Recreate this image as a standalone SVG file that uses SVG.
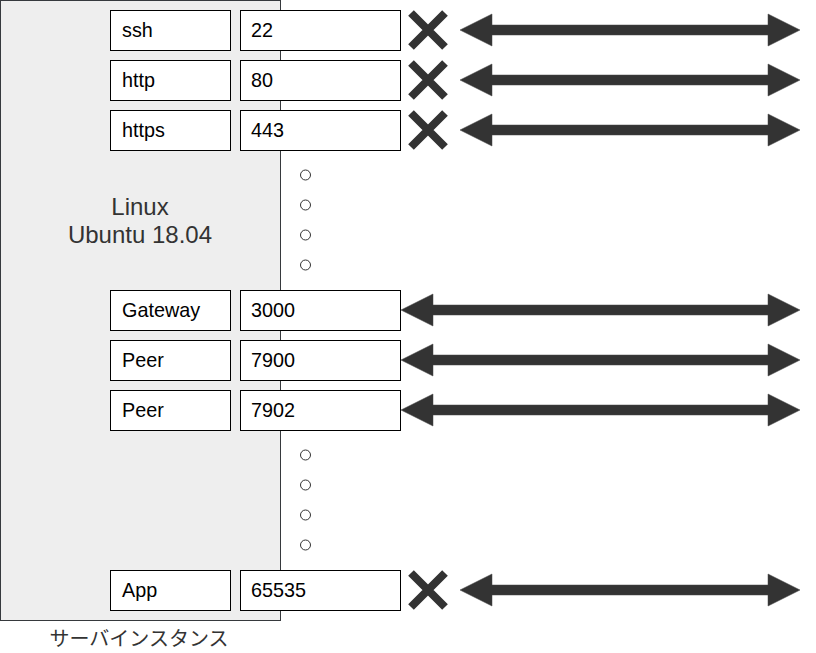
<svg xmlns="http://www.w3.org/2000/svg" width="816" height="653" viewBox="0 0 816 653">
<style>
.box{fill:#ffffff;stroke:#000000;stroke-width:1}
.lbl{font-family:"Liberation Sans",Arial,sans-serif;font-size:19.8px;fill:#000000}
.big{font-family:"Liberation Sans",Arial,sans-serif;font-size:24px;fill:#333333;text-anchor:middle}
.jp{font-family:"Liberation Sans","Noto Sans CJK JP",sans-serif;font-size:20px;fill:#333333;text-anchor:middle}
.x{stroke:#333333;stroke-width:8;stroke-linecap:butt;fill:none}
.arr{fill:#333333;stroke:#444444;stroke-width:0.5}
.dot{fill:none;stroke:#333333;stroke-width:1}
</style>
<rect width="816" height="653" fill="#ffffff"/>
<g id="server">
<rect x="0.5" y="0.5" width="280" height="620" fill="#eeeeee" stroke="#36393d" stroke-width="1"/>
<text class="big" x="140" y="215">Linux</text>
<text class="big" x="140" y="243">Ubuntu 18.04</text>
<text class="jp" x="139" y="646">サーバインスタンス</text>
</g>
<g id="row-ssh">
<rect class="box" x="110.5" y="10.5" width="120" height="40"/><text class="lbl" x="122" y="37">ssh</text>
<rect class="box" x="240.5" y="10.5" width="160" height="40"/><text class="lbl" x="251" y="37">22</text>
</g>
<g id="row-http">
<rect class="box" x="110.5" y="60.5" width="120" height="40"/><text class="lbl" x="122" y="87">http</text>
<rect class="box" x="240.5" y="60.5" width="160" height="40"/><text class="lbl" x="251" y="87">80</text>
</g>
<g id="row-https">
<rect class="box" x="110.5" y="110.5" width="120" height="40"/><text class="lbl" x="122" y="137">https</text>
<rect class="box" x="240.5" y="110.5" width="160" height="40"/><text class="lbl" x="251" y="137">443</text>
</g>
<g id="row-gateway">
<rect class="box" x="110.5" y="290.5" width="120" height="40"/><text class="lbl" x="122" y="317">Gateway</text>
<rect class="box" x="240.5" y="290.5" width="160" height="40"/><text class="lbl" x="251" y="317">3000</text>
</g>
<g id="row-peer1">
<rect class="box" x="110.5" y="340.5" width="120" height="40"/><text class="lbl" x="122" y="367">Peer</text>
<rect class="box" x="240.5" y="340.5" width="160" height="40"/><text class="lbl" x="251" y="367">7900</text>
</g>
<g id="row-peer2">
<rect class="box" x="110.5" y="390.5" width="120" height="40"/><text class="lbl" x="122" y="417">Peer</text>
<rect class="box" x="240.5" y="390.5" width="160" height="40"/><text class="lbl" x="251" y="417">7902</text>
</g>
<g id="row-app">
<rect class="box" x="110.5" y="570.5" width="120" height="40"/><text class="lbl" x="122" y="597">App</text>
<rect class="box" x="240.5" y="570.5" width="160" height="40"/><text class="lbl" x="251" y="597">65535</text>
</g>
<g id="dots">
<circle class="dot" cx="305.5" cy="175" r="5"/>
<circle class="dot" cx="305.5" cy="205" r="5"/>
<circle class="dot" cx="305.5" cy="235" r="5"/>
<circle class="dot" cx="305.5" cy="265" r="5"/>
<circle class="dot" cx="305.5" cy="455" r="5"/>
<circle class="dot" cx="305.5" cy="485" r="5"/>
<circle class="dot" cx="305.5" cy="515" r="5"/>
<circle class="dot" cx="305.5" cy="545" r="5"/>
</g>
<g id="blocked">
<path class="x" d="M411,13 L445,47 M445,13 L411,47"/>
<path class="x" d="M411,63 L445,97 M445,63 L411,97"/>
<path class="x" d="M411,113 L445,147 M445,113 L411,147"/>
<path class="x" d="M411,573 L445,607 M445,573 L411,607"/>
</g>
<g id="connectors">
<path class="arr" d="M460,30 L492,14 L492,25 L768,25 L768,14 L800,30 L768,46 L768,35 L492,35 L492,46 Z"/>
<path class="arr" d="M460,80 L492,64 L492,75 L768,75 L768,64 L800,80 L768,96 L768,85 L492,85 L492,96 Z"/>
<path class="arr" d="M460,130 L492,114 L492,125 L768,125 L768,114 L800,130 L768,146 L768,135 L492,135 L492,146 Z"/>
<path class="arr" d="M401,310 L433,294 L433,305 L768,305 L768,294 L800,310 L768,326 L768,315 L433,315 L433,326 Z"/>
<path class="arr" d="M401,360 L433,344 L433,355 L768,355 L768,344 L800,360 L768,376 L768,365 L433,365 L433,376 Z"/>
<path class="arr" d="M401,410 L433,394 L433,405 L768,405 L768,394 L800,410 L768,426 L768,415 L433,415 L433,426 Z"/>
<path class="arr" d="M460,590 L492,574 L492,585 L768,585 L768,574 L800,590 L768,606 L768,595 L492,595 L492,606 Z"/>
</g>
</svg>
